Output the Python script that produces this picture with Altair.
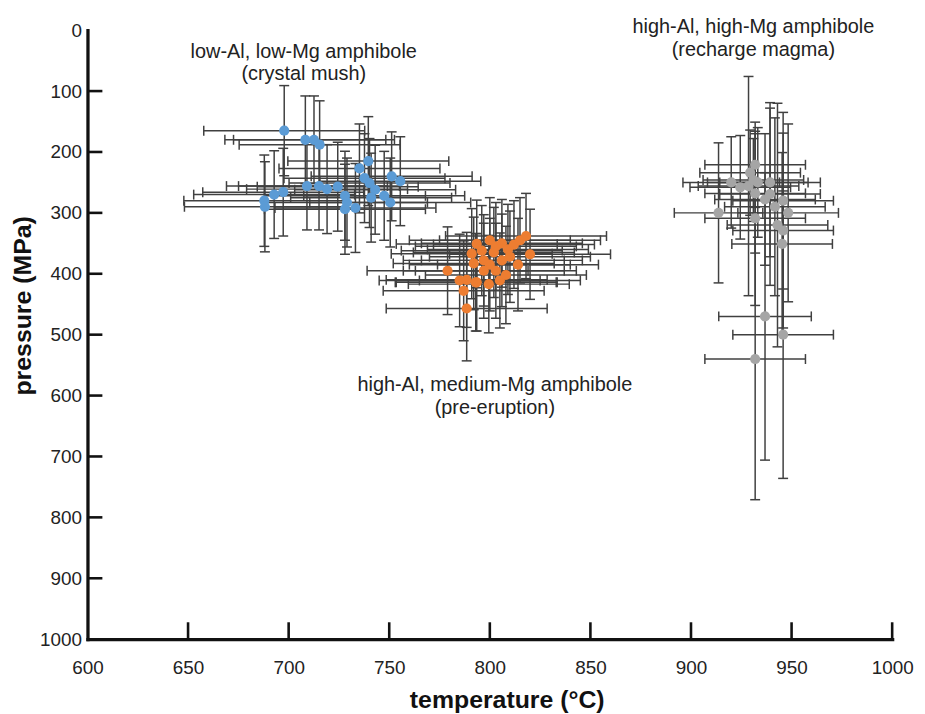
import altair as alt
import pandas as pd

# ---------------- data ----------------
series_names = ["low-Al, low-Mg", "high-Al, medium-Mg", "high-Al, high-Mg"]
series_colors = ["#5B9BD5", "#ED7D31", "#A5A5A5"]

blue_T = [697.8, 708.3, 712.6, 715.4, 687.9, 688.2, 692.8, 697.3, 709.1, 715.1, 719.1, 724.4, 728.0,
          729.0, 728.0, 733.2, 735.2, 739.6, 737.7, 740.2, 743.0, 741.0, 747.5, 750.5, 751.2, 755.5]
blue_P = [165, 180, 180, 188, 280, 290, 270, 266, 256, 256, 261, 257, 272,
          283, 294, 292, 227, 215, 243, 251, 262, 275, 272, 283, 240, 248]
blue_dT = [40] * 26
blue_dP = [74, 72, 72, 72, 75, 74, 72, 72, 72, 72, 73, 73, 73,
           73, 74, 73, 73, 73, 73, 73, 73, 73, 73, 73, 73, 73]

orange_T = [779, 785, 788.5, 793, 787, 788.5, 793.5, 791, 792, 797, 796, 799.5, 805, 793.5, 800,
            803, 806, 809, 812, 815, 818, 820, 814, 810, 806, 802, 800, 803, 808, 797]
orange_P = [395, 411, 410, 414, 428, 457, 351, 367, 383, 378, 362, 417, 411, 414, 345,
            355, 350, 360, 352, 345, 338, 368, 385, 372, 378, 365, 385, 395, 402, 395]
orange_dT = [40] * 30
orange_dP = [72, 76, 78, 80, 82, 86, 72, 74, 76, 75, 74, 80, 78, 80, 70,
             72, 72, 74, 72, 70, 70, 74, 76, 75, 76, 74, 76, 78, 80, 78]

gray_T = [931.9, 936.8, 945.8, 913.7, 931.9, 920.0, 924.5, 928.6, 929.4, 931.9, 931.0,
          933.2, 931.9, 939.3, 936.8, 939.3, 941.7, 945.8, 948.3, 943.0, 945.8, 945.3]
gray_P = [540, 470, 500, 300, 309, 250, 258, 256, 234, 221, 246,
          250, 268, 250, 278, 269, 290, 280, 300, 320, 329, 351]
gray_dT = [25, 23, 25, 22, 25, 24, 25, 25, 25, 25, 25,
           25, 25, 25, 25, 25, 25, 25, 25, 25, 25, 25]
gray_dP = [231, 236, 236, 115, 143, 75, 85, 180, 70, 70, 68,
           90, 98, 122, 108, 150, 146, 145, 146, 200, 160, 150]

note_labels = ["low-Al, low-Mg amphibole", "(crystal mush)",
               "high-Al, high-Mg amphibole", "(recharge magma)",
               "high-Al, medium-Mg amphibole", "(pre-eruption)"]
note_T = [707.5, 707.5, 931.0, 931.0, 802.5, 802.5]
note_P = [36, 72, -5, 33, 582, 620]

x_ticks = [650, 700, 750, 800, 850, 900, 950, 1000]
y_ticks = [100, 200, 300, 400, 500, 600, 700, 800, 900]
x_labels = [600, 650, 700, 750, 800, 850, 900, 950, 1000]
y_labels = [0, 100, 200, 300, 400, 500, 600, 700, 800, 900, 1000]

# ---------------- tables ----------------
frames = []
for name, T, P, dT, dP in [
    (series_names[0], blue_T, blue_P, blue_dT, blue_dP),
    (series_names[1], orange_T, orange_P, orange_dT, orange_dP),
    (series_names[2], gray_T, gray_P, gray_dT, gray_dP),
]:
    frames.append(pd.DataFrame({"series": name, "T": T, "P": P, "dT": dT, "dP": dP}))
df = pd.concat(frames, ignore_index=True)
notes = pd.DataFrame({"label": note_labels, "T": note_T, "P": note_P})
xt = pd.DataFrame({"v": x_ticks})
yt = pd.DataFrame({"v": y_ticks})

FONT = "Liberation Sans, Arial, sans-serif"
EB = "#404040"
W, H = 810, 613
XT = "temperature (°C)"
YT = "pressure (MPa)"

XS = alt.Scale(domain=[600, 1000], nice=False, zero=False)
YS = alt.Scale(domain=[0, 1000], reverse=True, nice=False, zero=False)

x_axis = alt.Axis(values=x_labels, format="d", grid=False, ticks=False, tickSize=0,
                  domain=True, domainColor="#111111", domainWidth=3.3, domainCap="square",
                  labelFont=FONT, labelFontSize=19, labelColor="#222222", labelPadding=20, labelFlush=False,
                  titleFont=FONT, titleFontSize=25, titleFontWeight="bold", titleColor="#111111",
                  titleX=422, titleY=61, titleBaseline="middle", titleAlign="center")
y_axis = alt.Axis(values=y_labels, format="d", grid=False, ticks=False,
                  tickSize=0, domain=True, domainColor="#111111", domainWidth=3.3, domainCap="square",
                  labelFont=FONT, labelFontSize=19, labelColor="#222222", labelPadding=6, labelFlush=False,
                  titleFont=FONT, titleFontSize=25, titleFontWeight="bold", titleColor="#111111",
                  titleX=-65, titleY=277, titleBaseline="middle", titleAlign="center", titleAngle=270)


def X(field):
    return alt.X(field, scale=XS, axis=x_axis, title=XT)


def Y(field):
    return alt.Y(field, scale=YS, axis=y_axis, title=YT)


base = alt.Chart(df).transform_calculate(
    Tlo="datum.T - datum.dT", Thi="datum.T + datum.dT",
    Plo="datum.P - datum.dP", Phi="datum.P + datum.dP",
)

hbar = base.mark_rule(color=EB, strokeWidth=1.5).encode(x=X("Tlo:Q"), x2="Thi:Q", y=Y("P:Q"))
vbar = base.mark_rule(color=EB, strokeWidth=1.5).encode(x=X("T:Q"), y=Y("Plo:Q"), y2="Phi:Q")
caps = []
for fx in ["Tlo", "Thi"]:
    caps.append(base.mark_tick(orient="vertical", size=10, thickness=1.5, color=EB, opacity=1).encode(
        x=X(f"{fx}:Q"), y=Y("P:Q")))
for fy in ["Plo", "Phi"]:
    caps.append(base.mark_tick(orient="horizontal", size=10, thickness=1.5, color=EB, opacity=1).encode(
        x=X("T:Q"), y=Y(f"{fy}:Q")))

points = alt.Chart(df).mark_circle(size=105, opacity=1).encode(
    x=X("T:Q"), y=Y("P:Q"),
    color=alt.Color("series:N", scale=alt.Scale(domain=series_names, range=series_colors), legend=None),
)

xtick_layer = alt.Chart(xt).mark_rule(color="#111111", strokeWidth=2.6).encode(
    x=X("v:Q"), y=alt.value(H), y2=alt.value(H - 17))
ytick_layer = alt.Chart(yt).mark_rule(color="#111111", strokeWidth=2.6).encode(
    y=Y("v:Q"), x=alt.value(0), x2=alt.value(15))

text_layer = alt.Chart(notes).mark_text(font=FONT, fontSize=20, color="#222222", align="center",
                                         baseline="middle").encode(
    x=X("T:Q"), y=Y("P:Q"), text="label:N")

chart = alt.layer(hbar, vbar, *caps, points, xtick_layer, ytick_layer, text_layer).properties(
    width=W, height=H,
    autosize=alt.AutoSizeParams(type="none"),
    padding={"left": 80, "top": 20, "right": 25, "bottom": 72},
    background="white",
).configure_view(stroke=None)

chart.save("out.html", embed_options={"renderer": "svg", "actions": False})
